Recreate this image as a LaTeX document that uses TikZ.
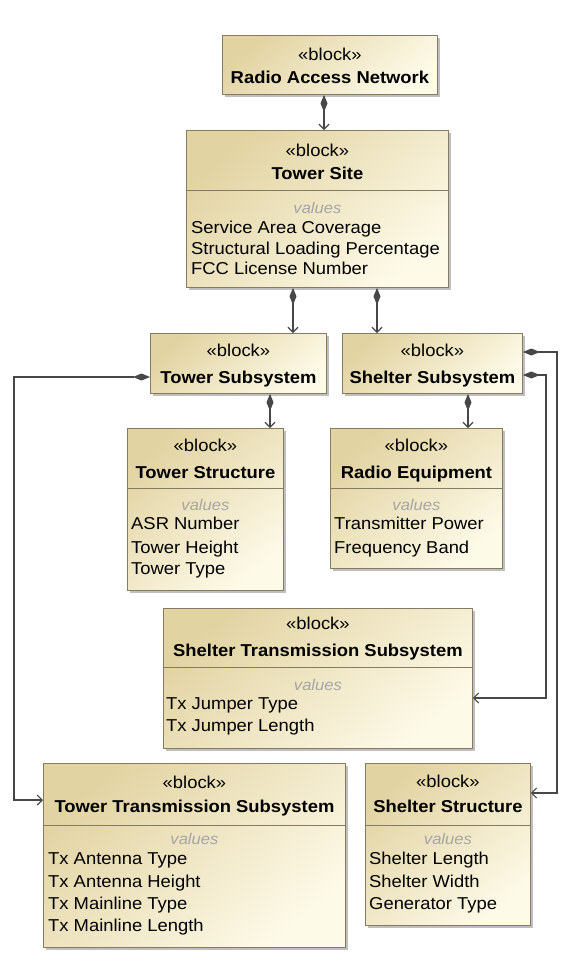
\documentclass[tikz,border=0pt]{standalone}
\usepackage{fontspec}
\setmainfont{Liberation Sans}[FakeStretch=1.07]
\usetikzlibrary{arrows.meta,shadows}
\definecolor{bdr}{HTML}{857A62}
\definecolor{lnc}{HTML}{474747}
\definecolor{fillA}{HTML}{E2D3A2}
\definecolor{fillB}{HTML}{FDFAE8}
\definecolor{valgray}{HTML}{A5A5A5}
\begin{document}
\begin{tikzpicture}[x=1pt,y=-1pt,
  blk/.style={draw=bdr, line width=0.9pt, top color=fillA, bottom color=fillB, shading angle=40,
    drop shadow={shadow xshift=2.5pt, shadow yshift=-2.5pt, fill=black!55, opacity=0.45},
    anchor=north west, inner sep=0pt},
  sepline/.style={draw=bdr, line width=0.8pt},
  txt/.style={inner sep=0pt, anchor=base, font=\fontsize{17.2}{20}\selectfont},
  nametxt/.style={inner sep=0pt, anchor=base, font=\fontsize{17.2}{20}\selectfont\bfseries},
  valtxt/.style={inner sep=0pt, anchor=base, text=valgray, font=\fontsize{15.5}{18}\selectfont\itshape},
  attr/.style={inner sep=0pt, anchor=base west, font=\fontsize{17.2}{20}\selectfont},
  comp/.style={draw=lnc, line width=1.1pt,
    {Diamond[length=17pt,width=7pt,fill=lnc]}-{Straight Barb[length=5pt,width=10pt]}}]
\fill[white] (0,0) rectangle (579,975);
\useasboundingbox (0,0) rectangle (579,975);

% Radio Access Network
\node[blk, minimum width=215pt, minimum height=59pt] (ran) at (222,35) {};
\node[txt] (ran-s) at (ran.north |- 0,60) {«block»};
\node[nametxt] (ran-n) at (ran.north |- 0,83) {Radio Access Network};

% Tower Site
\node[blk, minimum width=262pt, minimum height=157pt] (ts) at (186,130) {};
\draw[sepline] (ts.west |- 0,190) -- (ts.east |- 0,190);
\node[txt] (ts-s) at (ts.north |- 0,156) {«block»};
\node[nametxt] (ts-n) at (ts.north |- 0,179) {Tower Site};
\node[valtxt] (ts-v) at (ts.north |- 0,213) {values};
\node[attr] (ts-a1) at (191,233) {Service Area Coverage};
\node[attr] (ts-a2) at (191,254) {Structural Loading Percentage};
\node[attr] (ts-a3) at (191,274) {FCC License Number};

% Tower Subsystem
\node[blk, minimum width=176pt, minimum height=60pt] (tsub) at (150,333) {};
\node[txt] (tsub-s) at (tsub.north |- 0,356) {«block»};
\node[nametxt] (tsub-n) at (tsub.north |- 0,383) {Tower Subsystem};

% Shelter Subsystem
\node[blk, minimum width=180pt, minimum height=60pt] (ssub) at (342,333) {};
\node[txt] (ssub-s) at (ssub.north |- 0,356) {«block»};
\node[nametxt] (ssub-n) at (ssub.north |- 0,383) {Shelter Subsystem};

% Tower Structure
\node[blk, minimum width=156pt, minimum height=162pt] (tstr) at (127,428) {};
\draw[sepline] (tstr.west |- 0,488) -- (tstr.east |- 0,488);
\node[txt] (tstr-s) at (tstr.north |- 0,451) {«block»};
\node[nametxt] (tstr-n) at (tstr.north |- 0,478) {Tower Structure};
\node[valtxt] (tstr-v) at (tstr.north |- 0,510) {values};
\node[attr] (tstr-a1) at (131,529) {ASR Number};
\node[attr] (tstr-a2) at (131,553) {Tower Height};
\node[attr] (tstr-a3) at (131,574) {Tower Type};

% Radio Equipment
\node[blk, minimum width=172pt, minimum height=140pt] (re) at (330,428) {};
\draw[sepline] (re.west |- 0,488) -- (re.east |- 0,488);
\node[txt] (re-s) at (re.north |- 0,451) {«block»};
\node[nametxt] (re-n) at (re.north |- 0,478) {Radio Equipment};
\node[valtxt] (re-v) at (re.north |- 0,510) {values};
\node[attr] (re-a1) at (334,529) {Transmitter Power};
\node[attr] (re-a2) at (334,553) {Frequency Band};

% Shelter Transmission Subsystem
\node[blk, minimum width=309pt, minimum height=140pt] (sts) at (163,608) {};
\draw[sepline] (sts.west |- 0,667) -- (sts.east |- 0,667);
\node[txt] (sts-s) at (sts.north |- 0,629) {«block»};
\node[nametxt] (sts-n) at (sts.north |- 0,656) {Shelter Transmission Subsystem};
\node[valtxt] (sts-v) at (sts.north |- 0,690) {values};
\node[attr] (sts-a1) at (166,709) {Tx Jumper Type};
\node[attr] (sts-a2) at (166,731) {Tx Jumper Length};

% Tower Transmission Subsystem
\node[blk, minimum width=302pt, minimum height=184pt] (tts) at (43,763) {};
\draw[sepline] (tts.west |- 0,825) -- (tts.east |- 0,825);
\node[txt] (tts-s) at (tts.north |- 0,788) {«block»};
\node[nametxt] (tts-n) at (tts.north |- 0,812) {Tower Transmission Subsystem};
\node[valtxt] (tts-v) at (tts.north |- 0,844) {values};
\node[attr] (tts-a1) at (48,864) {Tx Antenna Type};
\node[attr] (tts-a2) at (48,887) {Tx Antenna Height};
\node[attr] (tts-a3) at (48,909) {Tx Mainline Type};
\node[attr] (tts-a4) at (48,931) {Tx Mainline Length};

% Shelter Structure
\node[blk, minimum width=165pt, minimum height=162pt] (ss) at (365,763) {};
\draw[sepline] (ss.west |- 0,825) -- (ss.east |- 0,825);
\node[txt] (ss-s) at (ss.north |- 0,787) {«block»};
\node[nametxt] (ss-n) at (ss.north |- 0,812) {Shelter Structure};
\node[valtxt] (ss-v) at (ss.north |- 0,844) {values};
\node[attr] (ss-a1) at (369,864) {Shelter Length};
\node[attr] (ss-a2) at (369,887) {Shelter Width};
\node[attr] (ss-a3) at (369,909) {Generator Type};

% bend points
\coordinate (lc) at (14,600);
\coordinate (rc1) at (557,600);
\coordinate (rc2) at (546,500);

% connectors
\draw[comp] (ran.south -| 324,0) -- (ts.north -| 324,0);
\draw[comp] (ts.south -| 293,0) -- (tsub.north -| 293,0);
\draw[comp] (ts.south -| 377,0) -- (ssub.north -| 377,0);
\draw[comp] (tsub.south -| 270,0) -- (tstr.north -| 270,0);
\draw[comp] (ssub.south -| 468,0) -- (re.north -| 468,0);
\draw[comp] (tsub.west |- 0,377) -| (lc) |- (tts.west |- 0,800);
\draw[comp] (ssub.east |- 0,352) -| (rc1) |- (ss.east |- 0,793);
\draw[comp] (ssub.east |- 0,375) -| (rc2) |- (sts.east |- 0,698);
\end{tikzpicture}
\end{document}
